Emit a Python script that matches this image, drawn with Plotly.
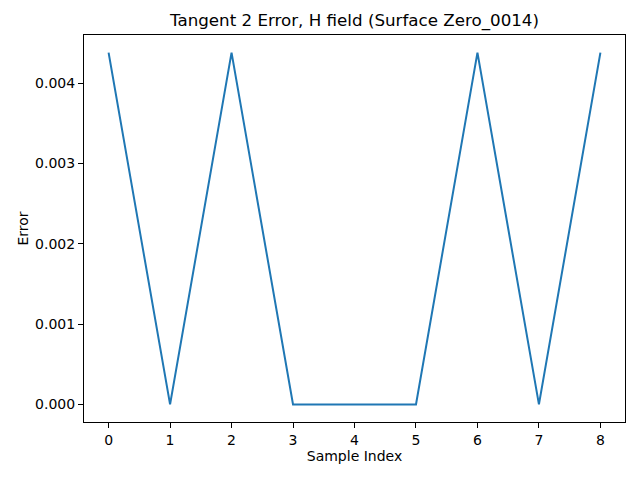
import plotly.graph_objects as go

# Data
sample_index = [0, 1, 2, 3, 4, 5, 6, 7, 8]
error_values = [0.00438, 0.0, 0.00438, 0.0, 0.0, 0.0, 0.00438, 0.0, 0.00438]

y_ticks = [0.000, 0.001, 0.002, 0.003, 0.004]

peak = max(error_values)

# the page body adds an 8px offset, so margins are shifted to compensate
fig = go.Figure()
fig.add_trace(go.Scatter(
    x=sample_index,
    y=error_values,
    mode="lines",
    line=dict(color="#1f77b4", width=2),
    showlegend=False,
))

axis_style = dict(
    showline=True,
    linecolor="black",
    linewidth=1,
    mirror=True,
    ticks="outside",
    ticklen=5,
    tickwidth=1,
    tickcolor="black",
    showgrid=False,
    zeroline=False,
    tickfont=dict(size=14, color="black"),
)

fig.update_layout(
    width=640,
    height=480,
    margin=dict(l=76, r=23, t=27, b=66, autoexpand=False),
    paper_bgcolor="white",
    plot_bgcolor="white",
    font=dict(family="DejaVu Sans", color="black"),
    title=dict(
        text="Tangent 2 Error, H field (Surface Zero_0014)",
        x=(76 + 640 - 23) / 2 / 640,
        xanchor="center",
        y=0.975,
        yanchor="middle",
        font=dict(size=16.7),
    ),
    xaxis=dict(
        axis_style,
        range=[-0.4, 8.4],
        tickvals=sample_index,
        title=dict(text="Sample Index", font=dict(size=14), standoff=4),
    ),
    yaxis=dict(
        axis_style,
        range=[-0.05 * peak, 1.05 * peak],
        tickvals=y_ticks,
        tickformat=".3f",
        title=dict(text="Error", font=dict(size=14), standoff=3),
    ),
)

fig.write_html("out.html")
